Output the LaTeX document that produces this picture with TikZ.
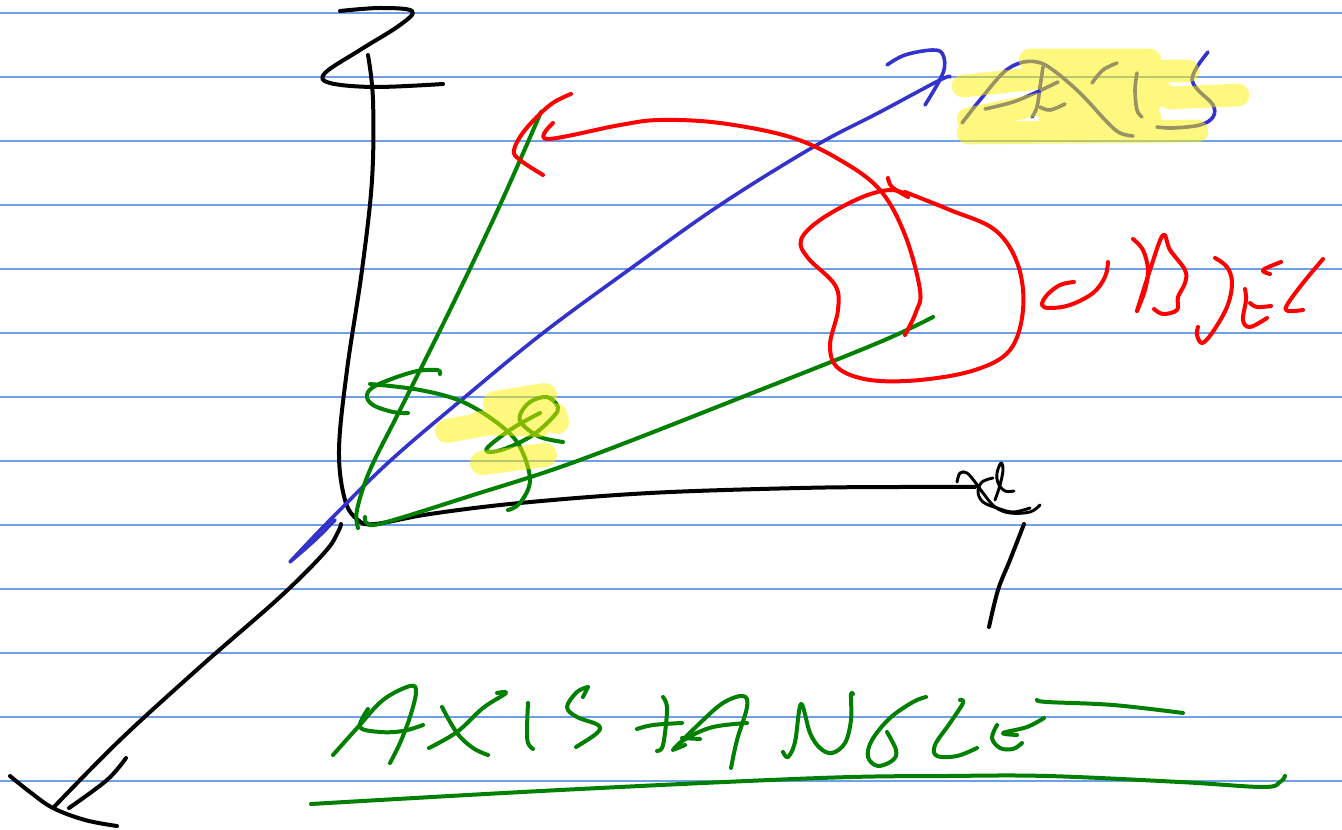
\documentclass[tikz,border=0pt]{standalone}
\definecolor{ruleblue}{HTML}{6F9FE8}
\definecolor{inkgreen}{HTML}{008000}
\definecolor{inkblue}{HTML}{3333CC}
\definecolor{inkred}{HTML}{FF0000}
\tikzset{
  ink/.style={line width=3pt,line cap=round,line join=round},
  kblack/.style={ink,draw=black},
  kgreen/.style={ink,draw=inkgreen},
  kblue/.style={ink,line width=2.7pt,draw=inkblue},
  kred/.style={ink,draw=inkred},
  rule/.style={draw=ruleblue,line width=0.9pt},
  marker/.style={draw=yellow,line cap=round,line join=round,draw opacity=0.5}
}
\newcommand\pen[2]{\draw[#1] plot[smooth,tension=.6] coordinates {#2};}
\begin{document}
\begin{tikzpicture}[x=.75pt,y=-.75pt]
\useasboundingbox (0,0) rectangle (1342,830);
\fill[white] (0,0) rectangle (1342,830);
% ruled paper
\foreach \yy in {13,77,141,205,269,333,397,461,525,589,653,717,781}
  \draw[rule] (0,\yy) -- (1342,\yy);
% black axes
\pen{kblack}{(368,55)(373,100)(372,180)(362,270)(347,370)(339,450)(345,500)(358,520)(375,524)(430,514)(520,503)(650,493)(800,488)(900,487)(975,487)}
\pen{kblack}{(340,11)(380,8)(412,11)(400,25)(360,50)(325,73)(330,83)(375,87)(443,84)}
\pen{kblack,line width=2.2pt}{(957,482)(960,473)(967,473)(975,482)(983,493)(995,507)(1010,513)(1030,512)(1040,505)}
\pen{kblack,line width=2.2pt}{(993,478)(982,482)(978,492)(983,502)(997,508)(1013,512)(1030,508)}
\pen{kblack,line width=2.2pt}{(1014,491)(1005,491)(998,483)(997,473)(1001,463)(1003,470)(1000,485)(995,500)}
\pen{kblack}{(1024,524)(1010,560)(998,590)(989,627)}
\pen{kblack}{(341,524)(338,532)(325,552)(280,597)(200,667)(120,740)(53,808)}
\pen{kblack}{(126,758)(107,780)(69,808)}
\pen{kblack}{(10,776)(30,792)(53,808)(85,820)(117,826)}
% blue axis
\pen{kblue}{(290,562)(330,520)(390,461)(465,397)(543,333)(630,269)(720,205)(815,146)(880,112)(940,80)(950,77)}
\pen{kblue}{(291,561)(315,540)(335,520)}
\pen{kblue}{(887,65)(905,55)(933,50)(943,55)(943,73)(925,105)}
\pen{kblue}{(962,123)(980,100)(1003,73)(1020,63)(1037,62)(1053,70)(1080,93)(1107,122)(1120,133)(1133,136)}
\pen{kblue}{(985,109)(1013,102)(1037,92)(1058,82)}
\pen{kblue}{(1043,67)(1040,87)(1037,107)(1032,117)}
\pen{kblue}{(1040,107)(1050,110)(1065,104)}
\pen{kblue}{(1092,83)(1103,70)(1117,63)}
\pen{kblue}{(1137,73)(1135,90)(1137,110)(1142,117)}
\pen{kblue}{(1208,52)(1197,67)(1192,80)(1198,90)(1213,105)(1213,117)(1200,125)(1173,128)(1157,127)}
% green rays and angle
\pen{kgreen}{(358,528)(357,510)(370,470)(400,410)(450,310)(500,205)(541,112)}
\pen{kgreen}{(365,517)(367,523)(383,523)(470,496)(580,460)(760,390)(880,342)(933,317)}
\pen{kgreen}{(508,510)(520,503)(530,480)(520,447)(500,425)(463,402)(420,390)(370,384)}
\pen{kgreen}{(440,374)(437,370)(413,372)(377,385)(367,395)(373,405)(393,412)(408,413)}
\pen{kgreen}{(563,442)(540,437)(523,425)(520,415)(530,402)(547,397)(558,407)(553,417)(533,435)(507,448)(490,452)(488,447)(513,428)(540,413)}
% red rotation arc and object
\pen{kred}{(905,335)(916,312)(920,290)(905,235)(880,190)(840,160)(790,137)(720,123)(660,120)(620,125)(547,139)(553,123)}
\pen{kred}{(571,94)(550,105)(525,130)(514,150)(520,160)(543,175)}
\pen{kred}{(888,178)(892,187)(908,197)}
\pen{kred}{(908,195)(890,190)(860,198)(820,220)(801,240)(808,258)(835,285)(838,310)(830,345)(838,368)(870,380)(920,380)(975,370)(1010,350)(1023,310)(1018,265)(995,230)(950,210)(905,192)}
\pen{kred}{(1108,262)(1105,277)(1093,293)(1070,305)(1050,308)(1042,305)(1047,295)(1060,285)(1074,282)}
\pen{kred}{(1133,239)(1143,250)(1148,270)(1145,290)(1137,311)}
\pen{kred}{(1137,311)(1150,270)(1163,235)(1170,250)(1185,270)(1185,283)(1178,297)(1177,310)(1163,314)(1154,309)}
\pen{kred}{(1215,258)(1227,267)(1232,283)(1227,307)(1212,333)(1202,343)(1197,335)(1198,327)}
\pen{kred}{(1281,262)(1263,270)(1270,274)}
\pen{kred}{(1245,289)(1246,300)(1243,320)(1250,327)(1267,318)}
\pen{kred}{(1250,303)(1257,307)(1271,306)}
\pen{kred}{(1323,259)(1303,283)(1287,305)(1288,311)(1303,310)}
% green title
\pen{kgreen}{(333,755)(358,727)(383,700)(410,686)(416,692)(410,717)(400,743)(390,763)}
\pen{kgreen}{(368,709)(360,727)(380,732)(403,731)(423,725)}
\pen{kgreen}{(442,707)(457,733)(473,748)(488,755)}
\pen{kgreen}{(429,748)(457,732)(483,708)(506,693)(497,693)}
\pen{kgreen}{(528,703)(527,730)(528,743)(533,749)}
\pen{kgreen}{(588,687)(583,697)}
\pen{kgreen}{(588,687)(577,692)(567,707)(577,717)(598,725)(597,733)(576,747)}
\pen{kgreen}{(637,729)(653,725)(682,723)}
\pen{kgreen}{(663,697)(667,707)(665,733)(662,748)(657,751)}
\pen{kgreen}{(673,750)(700,723)(723,703)(743,696)(747,707)(737,740)(731,768)}
\pen{kgreen}{(747,723)(713,727)(687,738)(674,749)(685,745)}
\pen{kgreen}{(682,738)(700,739)}
\pen{kgreen}{(783,752)(788,757)(795,742)(801,704)(810,733)(820,748)(832,753)(845,743)(851,720)(851,695)(853,694)}
\pen{kgreen}{(926,697)(913,702)(890,718)(872,740)(868,757)(878,766)(893,760)(896,750)(887,732)}
\pen{kgreen}{(960,700)(963,703)(950,723)(935,745)(937,756)(957,756)(977,748)}
\pen{kgreen}{(997,725)(992,738)(1000,748)(1013,749)(1022,743)}
\pen{kgreen}{(1044,718)(1027,727)(1003,733)(1017,735)}
\pen{kgreen}{(1037,700)(1047,702)(1113,705)(1183,713)}
\pen{kgreen}{(311,804)(560,790)(820,778)(947,776)(1047,776)(1180,782)(1263,787)(1280,782)(1285,776)}
% highlighter, one path so that its strokes do not add up
\draw[marker,line width=17pt]
  (1030,60) -- (1150,60)
  (1165,71) -- (1188,71)
  (1040,72) -- (1150,72)
  (963,86) -- (1040,78)
  (1050,85) -- (1150,85)
  (1170,98) -- (1238,95)
  (1150,85) -- (1170,98)
  (968,119) -- (1040,104)
  (1050,103) -- (1150,103)
  (1050,118) -- (1150,118)
  (968,133) -- (1197,131);
\draw[marker,line width=18pt]
  (447,431) -- (490,423)
  (495,403) -- (545,395)
  (500,420) -- (555,415) -- (557,422)
  (480,423) -- (540,425)
  (482,463) -- (545,455);
\end{tikzpicture}
\end{document}
